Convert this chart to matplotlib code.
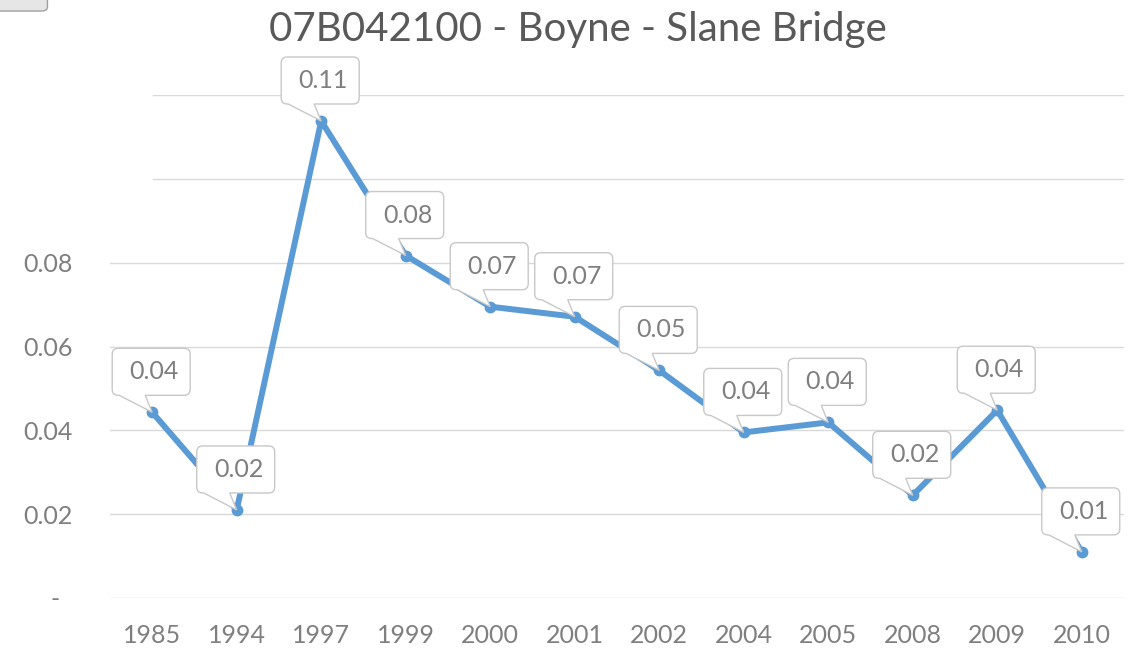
import numpy as np
import matplotlib.pyplot as plt
import matplotlib.transforms as mtransforms
from matplotlib.path import Path
from matplotlib.patches import PathPatch, FancyBboxPatch

plt.rcParams['font.family'] = ['Lato', 'DejaVu Sans']

years = ['1985', '1994', '1997', '1999', '2000', '2001',
         '2002', '2004', '2005', '2008', '2009', '2010']
values = [0.0443, 0.0210, 0.1138, 0.0817, 0.0695, 0.0671,
          0.0543, 0.0395, 0.0419, 0.0245, 0.0448, 0.0110]
y_ticks = [0.0, 0.02, 0.04, 0.06, 0.08, 0.10, 0.12]
y_labels = ['-', '0.02', '0.04', '0.06', '0.08', '', '']
title = '07B042100 - Boyne - Slane Bridge'

LINE = '#5B9BD5'
GRID = '#D9D9D9'
TEXT = '#7F7F7F'


def callout_path(x0=-0.40, x1=0.38, y0=0.17, y1=0.64, r=0.06,
                 p0=-0.33, p1=-0.07):
    """Rounded box with a pointer down to (0, 0), in inches."""
    verts = [
        (x0 + r, y0), (p0, y0), (0.0, 0.0), (p1, y0), (x1 - r, y0),
        (x1, y0), (x1, y0 + r),
        (x1, y1 - r),
        (x1, y1), (x1 - r, y1),
        (x0 + r, y1),
        (x0, y1), (x0, y1 - r),
        (x0, y0 + r),
        (x0, y0), (x0 + r, y0),
        (x0 + r, y0),
    ]
    codes = [Path.MOVETO, Path.LINETO, Path.LINETO, Path.LINETO, Path.LINETO,
             Path.CURVE3, Path.CURVE3,
             Path.LINETO,
             Path.CURVE3, Path.CURVE3,
             Path.LINETO,
             Path.CURVE3, Path.CURVE3,
             Path.LINETO,
             Path.CURVE3, Path.CURVE3,
             Path.CLOSEPOLY]
    return Path(verts, codes)


fig = plt.figure(figsize=(11.3, 6.49), dpi=100)
ax = fig.add_axes([0.0973, 0.0786, 0.8974, 0.7750])

x = np.arange(len(years))
ax.plot(x, values, color=LINE, lw=4.3, marker='o', ms=7.5,
        solid_joinstyle='round', solid_capstyle='round', zorder=3)

ax.set_xlim(-0.5, len(years) - 0.5)
ax.set_ylim(0, 0.12)
ax.set_xticks(x)
ax.set_xticklabels(years)
ax.set_yticks(y_ticks)
ax.set_yticklabels(y_labels)
ax.tick_params(axis='both', length=0, labelsize=18, labelcolor=TEXT)
ax.tick_params(axis='y', pad=27)
ax.tick_params(axis='x', pad=19)

# the "-" zero label sits a little left of the others
zero_lbl = ax.get_yticklabels()[0]
zero_lbl.set_transform(zero_lbl.get_transform() +
                       mtransforms.ScaledTranslation(-0.13, 0, fig.dpi_scale_trans))

for s in ax.spines.values():
    s.set_visible(False)

# horizontal gridlines; the top two start further right
for yt in y_ticks:
    xmin = 0.042 if yt >= 0.10 else 0.0
    ax.axhline(yt, xmin=xmin, xmax=1, color=GRID, lw=1, zorder=1)

# callout data labels
path = callout_path()
for xi, v in zip(x, values):
    tr = fig.dpi_scale_trans + mtransforms.ScaledTranslation(xi, v, ax.transData)
    ax.add_patch(PathPatch(path, transform=tr, facecolor='white',
                           edgecolor='#C8C8C8', lw=1.0, zorder=4, clip_on=False))
    ax.text(0.02, 0.405, f'{v:.2f}', transform=tr, ha='center', va='center',
            fontsize=18, color=TEXT, zorder=5, clip_on=False)

fig.text(0.511, 0.955, title, ha='center', va='center',
         fontsize=29, color='#595959')

# small grey tab in the top-left corner
fig.patches.append(FancyBboxPatch((-0.01, 0.983), 0.052, 0.03,
                                  boxstyle='round,pad=0,rounding_size=0.006',
                                  transform=fig.transFigure, facecolor='#E6E6E6',
                                  edgecolor='#A0A0A0', lw=1))

fig.savefig('out.png', dpi=100)
